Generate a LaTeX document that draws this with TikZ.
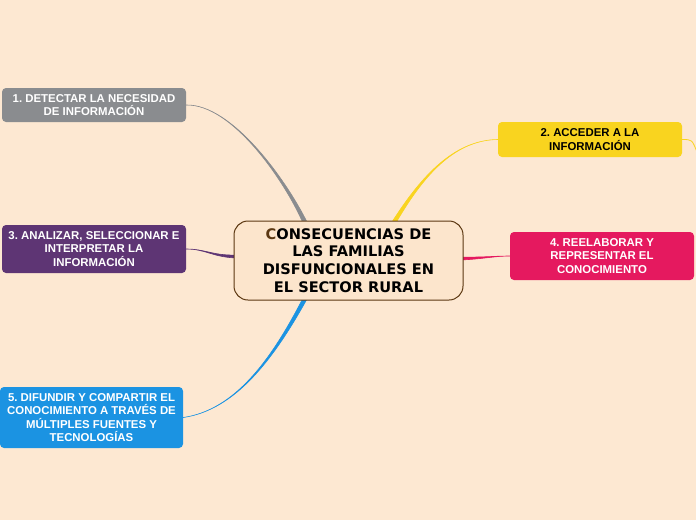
\documentclass[tikz,border=0pt]{standalone}
\usepackage{fontspec}
\setmainfont{Liberation Sans}
\newfontfamily\corefont{DejaVu Sans}
\usetikzlibrary{calc}
\frenchspacing

\definecolor{paper}{HTML}{FDE8D2}
\definecolor{corefill}{HTML}{FCE5CC}
\definecolor{corebrown}{HTML}{5B3711}
\definecolor{detgray}{HTML}{8A8C8F}
\definecolor{accyellow}{HTML}{F9D41F}
\definecolor{anapurple}{HTML}{5E3574}
\definecolor{reepink}{HTML}{E5195F}
\definecolor{difblue}{HTML}{1B93E2}

\pgfdeclarelayer{canvas}
\pgfdeclarelayer{links}
\pgfsetlayers{canvas,links,main}

% tapered branch: colour, start, control 1, control 2, end, half width at start
\newcommand\taper[6]{%
  \filldraw[#1, line width=0.6pt]
    ($(#2)+(#6)$) .. controls ($(#3)+0.5*(#6)$) and (#4) .. (#5)
    .. controls (#4) and ($(#3)-0.5*(#6)$) .. ($(#2)-(#6)$) -- cycle;}

\begin{document}
\begin{tikzpicture}[
    x=1pt, y=-1pt,
    topic/.style={rectangle, rounded corners=4pt, minimum width=184pt, inner sep=0pt,
      align=center, text=white, font=\bfseries\fontsize{11.4}{13.3}\selectfont},
    core/.style={rectangle, draw=corebrown, line width=1pt, fill=corefill,
      rounded corners=14pt, minimum width=229pt, minimum height=79pt, inner sep=0pt,
      align=center, font=\corefont\bfseries\fontsize{14.6}{17.7}\selectfont}
  ]
    \useasboundingbox (0,0) rectangle (696,520);
    \begin{pgfonlayer}{canvas}
      \fill[paper] (0,0) rectangle (696,520);
    \end{pgfonlayer}

    % central topic
    \node[core] (core) at (348.5,260.5)
      {{\color{corebrown}C}ONSECUENCIAS DE\\LAS FAMILIAS\\DISFUNCIONALES EN\\EL SECTOR RURAL};

    % main topics
    \node[topic, fill=detgray, minimum height=34pt] (detect) at (94,105)
      {1. DETECTAR LA NECESIDAD\\DE INFORMACIÓN};
    \node[topic, fill=accyellow, text=black, minimum height=35pt] (access) at (590,139.5)
      {2. ACCEDER A LA\\INFORMACIÓN};
    \node[topic, fill=anapurple, minimum height=48pt] (analyse) at (94,249)
      {3. ANALIZAR, SELECCIONAR E\\INTERPRETAR LA\\INFORMACIÓN};
    \node[topic, fill=reepink, minimum height=48pt] (rework) at (602,256)
      {4. REELABORAR Y\\REPRESENTAR EL\\CONOCIMIENTO};
    \node[topic, fill=difblue, minimum width=183pt, minimum height=61pt] (spread) at (91.5,417.5)
      {5. DIFUNDIR Y COMPARTIR EL\\CONOCIMIENTO A TRAVÉS DE\\MÚLTIPLES FUENTES Y\\TECNOLOGÍAS};

    % branches
    \coordinate (g0) at ($(core.north)+(-44,1)$);
    \coordinate (y0) at ($(core.north)+(46,1)$);
    \coordinate (p0) at ($(core.west)+(1,-4)$);
    \coordinate (k0) at ($(core.east)+(-1,-2)$);
    \coordinate (b0) at ($(core.south)+(-44,-1)$);
    \coordinate (stub) at (697,152);
    \begin{pgfonlayer}{links}
      \taper{detgray}{g0}{285,180}{232,104}{detect.east}{2.2,0}
      \taper{accyellow}{y0}{420,180}{452,140}{access.west}{2.2,0}
      \taper{anapurple}{p0}{212,256}{205,249}{analyse.east}{0,1.4}
      \taper{reepink}{k0}{485,258}{495,256}{rework.west}{0,1.4}
      \taper{difblue}{b0}{272,360}{235,410}{spread.east}{2.2,0}
      \draw[accyellow, line width=0.8pt] (access.east) .. controls (692,139.5) .. (stub);
    \end{pgfonlayer}
\end{tikzpicture}
\end{document}
